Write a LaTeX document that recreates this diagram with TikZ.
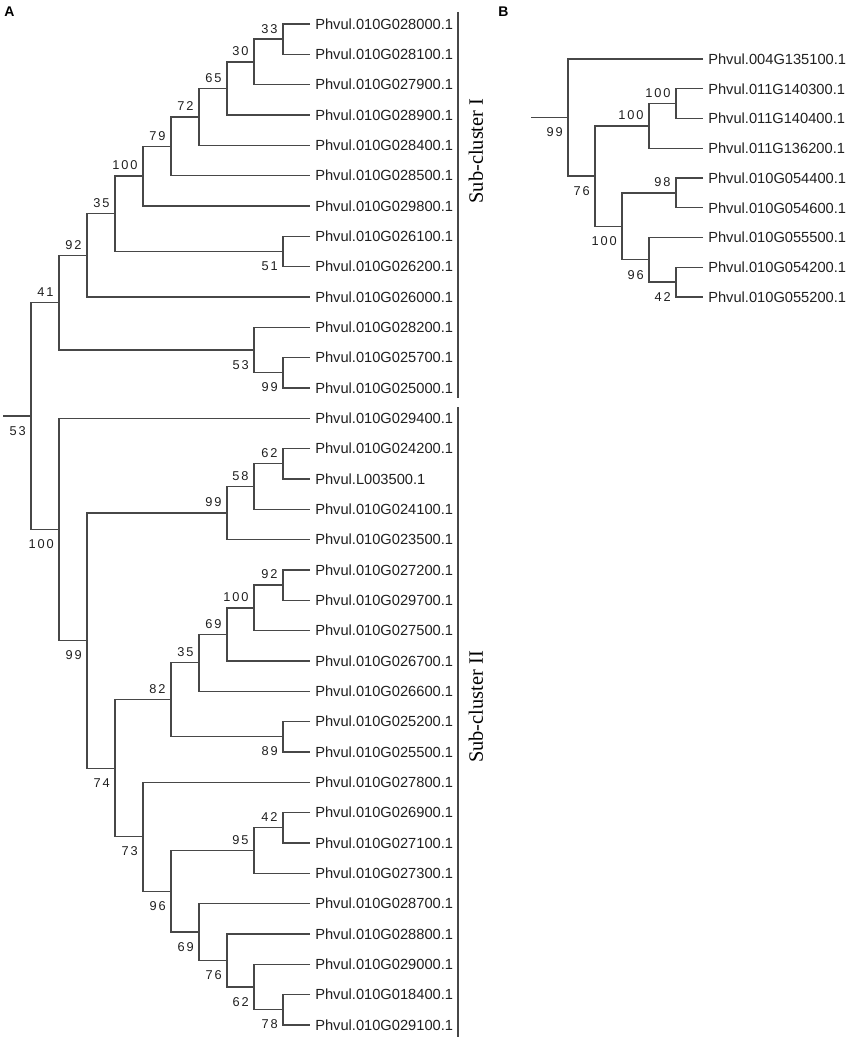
\documentclass[tikz,border=0pt]{standalone}
\usepackage{fontspec}
\setmainfont{Liberation Sans}
\newfontfamily\supportfont[LetterSpace=14]{Liberation Sans}
\newfontfamily\clusterfont{Liberation Serif}
\usetikzlibrary{calc}
% one clade: name, x (px), upper child, lower child, support, label side
\newcommand{\clade}[6]{%
  \path let \p1=(#3), \p2=(#4) in coordinate (#1) at ({#2*0.75pt}, {(\y1+\y2)/2});
  \draw[branch] (#3) -| (#1) |- (#4);
  \node[support #6] (#1-bs) at (#1) {#5};}
\colorlet{branch colour}{black!72}
\colorlet{label colour}{black!88}
\tikzset{
  branch/.style={draw=branch colour, line width=1pt},
  bar/.style={draw=branch colour, line width=1.1pt},
  leaf/.style={anchor=west, inner xsep=3.75pt, inner ysep=0pt, text height=7.9pt,
    text depth=0pt, text=label colour, font=\fontsize{11}{11}\selectfont},
  support/.style={anchor=base east, inner sep=0pt, text=label colour,
    font=\supportfont\fontsize{9.6}{9.6}\selectfont},
  support above/.style={support, xshift=-4pt, yshift=4.6pt},
  support below/.style={support, xshift=-3.8pt, yshift=-14.4pt},
  cluster/.style={rotate=90, inner sep=0pt, font=\clusterfont\fontsize{15.3}{15.3}\selectfont},
  panel/.style={anchor=base west, inner sep=0pt, font=\bfseries\fontsize{10.5}{10.5}\selectfont}
}

\begin{document}
\begin{tikzpicture}[x=0.75pt, y=-0.75pt]
  \useasboundingbox (0,0) rectangle (851,1041);
  \node[panel] (panelA) at (4,17) {A};
  \node[panel] (panelB) at (498,17) {B};

  % tree A
  \foreach \gene [count=\i] in {010G028000, 010G028100, 010G027900, 010G028900,
      010G028400, 010G028500, 010G029800, 010G026100, 010G026200, 010G026000,
      010G028200, 010G025700, 010G025000, 010G029400, 010G024200, L003500,
      010G024100, 010G023500, 010G027200, 010G029700, 010G027500, 010G026700,
      010G026600, 010G025200, 010G025500, 010G027800, 010G026900, 010G027100,
      010G027300, 010G028700, 010G028800, 010G029000, 010G018400, 010G029100}
    \node[leaf] (a\i) at (310, {24+30.33*(\i-1)}) {Phvul.\gene.1};
  \clade{A1}{283}{a1}{a2}{33}{above}
  \clade{A2}{254}{A1}{a3}{30}{above}
  \clade{A3}{227}{A2}{a4}{65}{above}
  \clade{A4}{199}{A3}{a5}{72}{above}
  \clade{A5}{171}{A4}{a6}{79}{above}
  \clade{A6}{143}{A5}{a7}{100}{above}
  \clade{A7}{283}{a8}{a9}{51}{below}
  \clade{A8}{115}{A6}{A7}{35}{above}
  \clade{A9}{87}{A8}{a10}{92}{above}
  \clade{A10}{283}{a12}{a13}{99}{below}
  \clade{A11}{254}{a11}{A10}{53}{below}
  \clade{A12}{59}{A9}{A11}{41}{above}
  \clade{A13}{283}{a15}{a16}{62}{above}
  \clade{A14}{254}{A13}{a17}{58}{above}
  \clade{A15}{227}{A14}{a18}{99}{above}
  \clade{A16}{283}{a19}{a20}{92}{above}
  \clade{A17}{254}{A16}{a21}{100}{above}
  \clade{A18}{227}{A17}{a22}{69}{above}
  \clade{A19}{199}{A18}{a23}{35}{above}
  \clade{A20}{283}{a24}{a25}{89}{below}
  \clade{A21}{171}{A19}{A20}{82}{above}
  \clade{A22}{283}{a27}{a28}{42}{above}
  \clade{A23}{254}{A22}{a29}{95}{above}
  \clade{A24}{283}{a33}{a34}{78}{below}
  \clade{A25}{254}{a32}{A24}{62}{below}
  \clade{A26}{227}{a31}{A25}{76}{below}
  \clade{A27}{199}{a30}{A26}{69}{below}
  \clade{A28}{171}{A23}{A27}{96}{below}
  \clade{A29}{143}{a26}{A28}{73}{below}
  \clade{A30}{115}{A21}{A29}{74}{below}
  \clade{A31}{87}{A15}{A30}{99}{below}
  \clade{A32}{59}{a14}{A31}{100}{below}
  \clade{A33}{31}{A12}{A32}{53}{below}
  \coordinate (A-stem) at ($(A33)+(-28,0)$);
  \draw[branch] (A-stem) -- (A33);

  % sub-clusters
  \draw[bar] (458,12) -- (458,398);
  \draw[bar] (458,407) -- (458,1037);
  \node[cluster] (subI) at (476,151) {Sub-cluster I};
  \node[cluster] (subII) at (476,707) {Sub-cluster II};

  % tree B
  \foreach \gene [count=\i] in {004G135100, 011G140300, 011G140400, 011G136200,
      010G054400, 010G054600, 010G055500, 010G054200, 010G055200}
    \node[leaf] (b\i) at (703, {59+29.75*(\i-1)}) {Phvul.\gene.1};
  \clade{B1}{676}{b2}{b3}{100}{above}
  \clade{B2}{649}{B1}{b4}{100}{above}
  \clade{B3}{676}{b5}{b6}{98}{above}
  \clade{B4}{676}{b8}{b9}{42}{below}
  \clade{B5}{649}{b7}{B4}{96}{below}
  \clade{B6}{622}{B3}{B5}{100}{below}
  \clade{B7}{595}{B2}{B6}{76}{below}
  \clade{B8}{568}{b1}{B7}{99}{below}
  \coordinate (B-stem) at ($(B8)+(-37,0)$);
  \draw[branch] (B-stem) -- (B8);
\end{tikzpicture}
\end{document}
